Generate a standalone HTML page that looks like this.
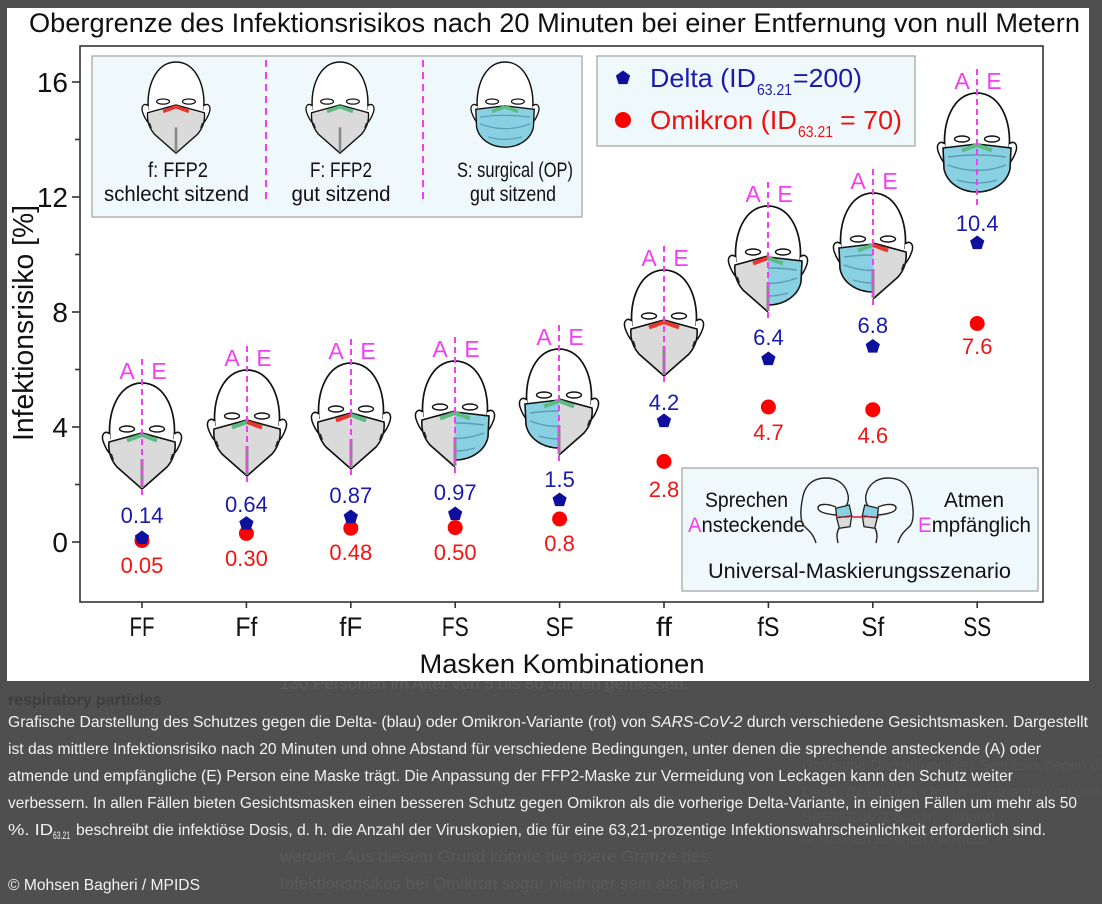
<!DOCTYPE html>
<html><head><meta charset="utf-8"><style>
html,body{margin:0;padding:0;background:#4f4f4f;}
svg{display:block;}
text{font-family:"Liberation Sans",sans-serif;}
</style></head><body>
<svg width="1102" height="904" viewBox="0 0 1102 904" xmlns="http://www.w3.org/2000/svg">
<defs>
<clipPath id="L"><rect x="-50" y="-30" width="50" height="160"/></clipPath>
<clipPath id="R"><rect x="0" y="-30" width="50" height="160"/></clipPath>
<g id="sk">
<path d="M-32,56 C-35,30 -24,0 0,0 C24,0 35,30 32,56" fill="#fff" stroke="#111" stroke-width="1.7"/>
<path d="M-32,51 C-37,47 -41,51 -39,58 C-37,64 -35,68 -31,72" fill="#fff" stroke="#111" stroke-width="1.5"/>
<path d="M32,51 C37,47 41,51 39,58 C37,64 35,68 31,72" fill="#fff" stroke="#111" stroke-width="1.5"/>
<ellipse cx="-15" cy="46" rx="7.5" ry="3" fill="#fff" stroke="#111" stroke-width="1.4"/>
<ellipse cx="15" cy="46" rx="7.5" ry="3" fill="#fff" stroke="#111" stroke-width="1.4"/>
</g>
<g id="mF">
<path d="M-33,59 L0,50 L33,59 C34,69 31,77 25,84 L0,106 L-25,84 C-31,77 -34,69 -33,59 Z" fill="#dadada" stroke="#111" stroke-width="1.6"/>
<path d="M-31,71 L-29,77 M31,71 L29,77" stroke="#222" stroke-width="2"/>
</g>
<g id="mS">
<path d="M-34,55 L0,51 L34,55 L33,76 C30,90 16,99 0,99 C-16,99 -30,90 -33,76 Z" fill="#88d0e2" stroke="#111" stroke-width="1.6"/>
<path d="M-29,64 Q0,60 29,64 M-29,72 Q0,83 29,72 M-20,87 Q0,93 20,87" fill="none" stroke="#5a9db2" stroke-width="1.4"/>
</g>
<path id="seam" d="M0,76 L0,105" stroke="#8a8a8a" stroke-width="3"/>
<path id="gL" d="M-15,57.5 L0,52" stroke="#5dbb82" stroke-width="4"/>
<path id="gR" d="M0,52 L15,57.5" stroke="#5dbb82" stroke-width="4"/>
<path id="rL" d="M-15,57.5 L0,52" stroke="#e8372f" stroke-width="4"/>
<path id="rR" d="M0,52 L15,57.5" stroke="#e8372f" stroke-width="4"/>
<g id="ae">
<line x1="0" y1="-24" x2="0" y2="114" stroke="#f040f0" stroke-width="2" stroke-dasharray="6,4"/>
<text x="-15" y="-4" font-size="23" fill="#f040f0" text-anchor="middle">A</text>
<text x="17" y="-4" font-size="23" fill="#f040f0" text-anchor="middle">E</text>
</g>
<path id="pt" d="M0,-7.5 L7.13,-2.32 L4.41,6.07 L-4.41,6.07 L-7.13,-2.32Z" fill="#0f0f9e"/>
</defs>

<!-- background ghost text -->
<rect x="0" y="0" width="1102" height="904" fill="#4f4f4f"/>
<text x="280" y="689" font-size="17" fill="#5d5d5d">130 Personen im Alter von 5 bis 80 Jahren gemessen.</text>
<text x="8" y="705" font-size="16" font-weight="bold" fill="#3e3e3e">respiratory particles</text>
<text x="280" y="862" font-size="17" fill="#5a5a5a">werden. Aus diesem Grund könnte die obere Grenze des</text>
<text x="280" y="889" font-size="17" fill="#5a5a5a">Infektionsrisikos bei Omikron sogar niedriger sein als bei den</text>
<text x="802" y="770" font-size="15" fill="#555">Grafische Darstellung des Schutzes gegen die</text>
<text x="802" y="797" font-size="15" fill="#555">Delta- (blau) oder Omikron-Variante (rot) von</text>
<text x="802" y="822" font-size="15" fill="#555">SARS-CoV-2 durch ... [mehr]</text>
<text x="802" y="844" font-size="15" fill="#555">© Mohsen Bagheri / MPIDS</text>

<!-- white chart area -->
<rect x="7" y="8" width="1082" height="673" fill="#fff"/>

<!-- title -->
<text x="29" y="32" font-size="27" fill="#111" textLength="1051" lengthAdjust="spacingAndGlyphs">Obergrenze des Infektionsrisikos nach 20 Minuten bei einer Entfernung von null Metern</text>

<!-- frame -->
<rect x="80" y="46" width="963" height="556" fill="none" stroke="#333" stroke-width="1.6"/>
<g stroke="#333" stroke-width="1.6">
<line x1="72" y1="542" x2="80" y2="542"/>
<line x1="72" y1="427" x2="80" y2="427"/>
<line x1="72" y1="312" x2="80" y2="312"/>
<line x1="72" y1="197" x2="80" y2="197"/>
<line x1="72" y1="82" x2="80" y2="82"/>
<line x1="75" y1="484.5" x2="80" y2="484.5"/>
<line x1="75" y1="369.5" x2="80" y2="369.5"/>
<line x1="75" y1="254.5" x2="80" y2="254.5"/>
<line x1="75" y1="139.5" x2="80" y2="139.5"/>
<line x1="142" y1="602" x2="142" y2="608"/>
<line x1="246.4" y1="602" x2="246.4" y2="608"/>
<line x1="350.8" y1="602" x2="350.8" y2="608"/>
<line x1="455.2" y1="602" x2="455.2" y2="608"/>
<line x1="559.6" y1="602" x2="559.6" y2="608"/>
<line x1="664" y1="602" x2="664" y2="608"/>
<line x1="768.4" y1="602" x2="768.4" y2="608"/>
<line x1="872.8" y1="602" x2="872.8" y2="608"/>
<line x1="977.2" y1="602" x2="977.2" y2="608"/>
</g>
<g font-size="28" fill="#111" text-anchor="end">
<text x="68" y="552">0</text>
<text x="68" y="437">4</text>
<text x="68" y="322">8</text>
<text x="68" y="207">12</text>
<text x="68" y="92">16</text>
</g>
<text transform="translate(33,323) rotate(-90)" font-size="29" fill="#111" text-anchor="middle" textLength="236" lengthAdjust="spacingAndGlyphs">Infektionsrisiko  [%]</text>

<g font-size="27" fill="#111" text-anchor="middle">
<text x="142" y="636" textLength="25" lengthAdjust="spacingAndGlyphs">FF</text>
<text x="246.4" y="636" textLength="22" lengthAdjust="spacingAndGlyphs">Ff</text>
<text x="350.8" y="636" textLength="23" lengthAdjust="spacingAndGlyphs">fF</text>
<text x="455.2" y="636" textLength="27" lengthAdjust="spacingAndGlyphs">FS</text>
<text x="559.6" y="636" textLength="28" lengthAdjust="spacingAndGlyphs">SF</text>
<text x="664" y="636" textLength="16" lengthAdjust="spacingAndGlyphs">ff</text>
<text x="768.4" y="636" textLength="22" lengthAdjust="spacingAndGlyphs">fS</text>
<text x="872.8" y="636" textLength="23" lengthAdjust="spacingAndGlyphs">Sf</text>
<text x="977.2" y="636" textLength="28" lengthAdjust="spacingAndGlyphs">SS</text>
<text x="562" y="673" textLength="285" lengthAdjust="spacingAndGlyphs">Masken Kombinationen</text>
</g>

<!-- legend box 1 -->
<rect x="92" y="56" width="490" height="161" fill="#eff9fb" stroke="#a8a8a8" stroke-width="1.3"/>
<line x1="266" y1="60" x2="266" y2="203" stroke="#f040f0" stroke-width="2" stroke-dasharray="7,5"/>
<line x1="423" y1="60" x2="423" y2="203" stroke="#f040f0" stroke-width="2" stroke-dasharray="7,5"/>
<g transform="translate(176,62) scale(0.86)">
<use href="#sk"/><use href="#mF"/><use href="#seam"/><use href="#rL"/><use href="#rR"/>
</g>
<g transform="translate(340,62) scale(0.86)">
<use href="#sk"/><use href="#mF"/><use href="#seam"/><use href="#gL"/><use href="#gR"/>
</g>
<g transform="translate(505,62) scale(0.86)">
<use href="#sk"/><use href="#mS"/><use href="#gL"/><use href="#gR"/>
</g>
<g font-size="21" fill="#111" text-anchor="middle">
<text x="178" y="177" textLength="60" lengthAdjust="spacingAndGlyphs">f: FFP2</text>
<text x="176.5" y="201" textLength="145" lengthAdjust="spacingAndGlyphs">schlecht sitzend</text>
<text x="341" y="177" textLength="62" lengthAdjust="spacingAndGlyphs">F: FFP2</text>
<text x="341" y="201" textLength="99" lengthAdjust="spacingAndGlyphs">gut sitzend</text>
<text x="515" y="177" textLength="116" lengthAdjust="spacingAndGlyphs">S: surgical (OP)</text>
<text x="513" y="201" textLength="86" lengthAdjust="spacingAndGlyphs">gut sitzend</text>
</g>

<!-- legend box 2 -->
<rect x="597" y="56" width="318" height="90" fill="#eff9fb" stroke="#a8a8a8" stroke-width="1.3"/>
<use href="#pt" transform="translate(623,78)"/>
<circle cx="623" cy="120" r="8" fill="#f00"/>
<text x="650" y="87" font-size="26" fill="#1a1aad" textLength="106" lengthAdjust="spacingAndGlyphs">Delta (ID</text>
<text x="757" y="95" font-size="16" fill="#1a1aad" textLength="35" lengthAdjust="spacingAndGlyphs">63.21</text>
<text x="793" y="87" font-size="26" fill="#1a1aad" textLength="69" lengthAdjust="spacingAndGlyphs">=200)</text>
<text x="650" y="129" font-size="26" fill="#f01010" textLength="147" lengthAdjust="spacingAndGlyphs">Omikron (ID</text>
<text x="798" y="137" font-size="16" fill="#f01010" textLength="35" lengthAdjust="spacingAndGlyphs">63.21</text>
<text x="840" y="129" font-size="26" fill="#f01010" textLength="62" lengthAdjust="spacingAndGlyphs">= 70)</text>

<!-- legend box 3 -->
<rect x="682" y="468" width="356" height="123" fill="#eff9fb" stroke="#a8a8a8" stroke-width="1.3"/>
<g font-size="21" fill="#111">
<text x="705" y="507" textLength="83" lengthAdjust="spacingAndGlyphs">Sprechen</text>
<text x="688" y="532" textLength="117" lengthAdjust="spacingAndGlyphs"><tspan fill="#f040f0">A</tspan>nsteckende</text>
<text x="944" y="507" textLength="60" lengthAdjust="spacingAndGlyphs">Atmen</text>
<text x="918" y="532" textLength="113" lengthAdjust="spacingAndGlyphs"><tspan fill="#f040f0">E</tspan>mpfänglich</text>
<text x="708" y="578" textLength="303" lengthAdjust="spacingAndGlyphs">Universal-Maskierungsszenario</text>
</g>
<g id="prof">
<path d="M816,543 C813,533 808,530 804,526 C799,520 801,505 803,496 C806,483 815,478 826,478 C838,478 846,485 848,495 C849,500 848,503 846,506" fill="none" stroke="#222" stroke-width="1.4"/>
<path d="M839,528 C836,534 837,538 838,543" fill="none" stroke="#222" stroke-width="1.4"/>
<path d="M836,507 C826,503 818,504 818,508 C818,512 826,514 836,515" fill="#fff" stroke="#222" stroke-width="1.4"/>
<path d="M835.7,508.3 L849.3,505 L851.7,516 L836.7,517.7 Z" fill="#88d0e2" stroke="#222" stroke-width="1.3"/>
<path d="M836.7,517.7 L851.7,516 L850,526.7 L839.3,528.3 Z" fill="#dadada" stroke="#222" stroke-width="1.3"/>
</g>
<use href="#prof" transform="translate(1714,0) scale(-1,1)"/>
<line x1="836" y1="517" x2="852" y2="517" stroke="#e82040" stroke-width="1.6" stroke-dasharray="3,2"/>
<line x1="852" y1="517" x2="863" y2="517" stroke="#e82040" stroke-width="1.6"/>
<line x1="863" y1="517" x2="879" y2="517" stroke="#e82040" stroke-width="1.6" stroke-dasharray="3,2"/>

<!-- heads -->
<g transform="translate(142,383)"><use href="#sk"/><use href="#mF"/><use href="#seam"/><use href="#gL"/><use href="#gR"/><use href="#ae"/></g>
<g transform="translate(247,370)"><use href="#sk"/><use href="#mF"/><use href="#seam"/><use href="#gL"/><use href="#rR"/><use href="#ae"/></g>
<g transform="translate(351,363)"><use href="#sk"/><use href="#mF"/><use href="#seam"/><use href="#rL"/><use href="#gR"/><use href="#ae"/></g>
<g transform="translate(455,361)"><use href="#sk"/><use href="#mF" clip-path="url(#L)"/><use href="#mS" clip-path="url(#R)"/><use href="#seam"/><use href="#gL"/><use href="#gR"/><use href="#ae"/></g>
<g transform="translate(559,349)"><use href="#sk"/><use href="#mS" clip-path="url(#L)"/><use href="#mF" clip-path="url(#R)"/><use href="#seam"/><use href="#gL"/><use href="#gR"/><use href="#ae"/></g>
<g transform="translate(664,270)"><use href="#sk"/><use href="#mF"/><use href="#seam"/><use href="#rL"/><use href="#rR"/><use href="#ae"/></g>
<g transform="translate(768,206)"><use href="#sk"/><use href="#mF" clip-path="url(#L)"/><use href="#mS" clip-path="url(#R)"/><use href="#seam"/><use href="#rL"/><use href="#gR"/><use href="#ae"/></g>
<g transform="translate(873,193)"><use href="#sk"/><use href="#mS" clip-path="url(#L)"/><use href="#mF" clip-path="url(#R)"/><use href="#seam"/><use href="#gL"/><use href="#rR"/><use href="#ae"/></g>
<g transform="translate(977,93)"><use href="#sk"/><use href="#mS"/><use href="#gL"/><use href="#gR"/><use href="#ae"/></g>

<!-- data points -->
<g fill="#f00">
<circle cx="142" cy="540.6" r="7.5"/>
<circle cx="246.4" cy="533.4" r="7.5"/>
<circle cx="350.8" cy="528.2" r="7.5"/>
<circle cx="455.2" cy="527.6" r="7.5"/>
<circle cx="559.6" cy="519" r="7.5"/>
<circle cx="664" cy="461.5" r="7.5"/>
<circle cx="768.4" cy="407" r="7.5"/>
<circle cx="872.8" cy="409.7" r="7.5"/>
<circle cx="977.2" cy="323.5" r="7.5"/>
</g>
<use href="#pt" transform="translate(142,538)"/>
<use href="#pt" transform="translate(246.4,523.6)"/>
<use href="#pt" transform="translate(350.8,517)"/>
<use href="#pt" transform="translate(455.2,514)"/>
<use href="#pt" transform="translate(559.6,500)"/>
<use href="#pt" transform="translate(664,421)"/>
<use href="#pt" transform="translate(768.4,359)"/>
<use href="#pt" transform="translate(872.8,346.5)"/>
<use href="#pt" transform="translate(977.2,243)"/>

<g font-size="22" fill="#1a1aad" text-anchor="middle">
<text x="142" y="523">0.14</text>
<text x="246.4" y="512">0.64</text>
<text x="350.8" y="503">0.87</text>
<text x="455.2" y="500">0.97</text>
<text x="559.6" y="487">1.5</text>
<text x="664" y="410">4.2</text>
<text x="768.4" y="345">6.4</text>
<text x="872.8" y="333">6.8</text>
<text x="977.2" y="231">10.4</text>
</g>
<g font-size="22" fill="#f01414" text-anchor="middle">
<text x="142" y="573">0.05</text>
<text x="246.4" y="566">0.30</text>
<text x="350.8" y="560">0.48</text>
<text x="455.2" y="560">0.50</text>
<text x="559.6" y="551">0.8</text>
<text x="664" y="497">2.8</text>
<text x="768.4" y="440">4.7</text>
<text x="872.8" y="443">4.6</text>
<text x="977.2" y="354">7.6</text>
</g>

<!-- caption -->
<g font-size="16" fill="#f2f2f2">
<text x="8" y="727" textLength="1080" lengthAdjust="spacingAndGlyphs">Grafische Darstellung des Schutzes gegen die Delta- (blau) oder Omikron-Variante (rot) von <tspan font-style="italic">SARS-CoV-2</tspan> durch verschiedene Gesichtsmasken. Dargestellt</text>
<text x="8" y="754" textLength="1033" lengthAdjust="spacingAndGlyphs">ist das mittlere Infektionsrisiko nach 20 Minuten und ohne Abstand für verschiedene Bedingungen, unter denen die sprechende ansteckende (A) oder</text>
<text x="8" y="781" textLength="1005" lengthAdjust="spacingAndGlyphs">atmende und empfängliche (E) Person eine Maske trägt. Die Anpassung der FFP2-Maske zur Vermeidung von Leckagen kann den Schutz weiter</text>
<text x="8" y="808" textLength="1069" lengthAdjust="spacingAndGlyphs">verbessern. In allen Fällen bieten Gesichtsmasken einen besseren Schutz gegen Omikron als die vorherige Delta-Variante, in einigen Fällen um mehr als 50</text>
<text x="8" y="835" textLength="45" lengthAdjust="spacingAndGlyphs">%. ID</text>
<text x="53" y="839" font-size="11" textLength="17" lengthAdjust="spacingAndGlyphs">63.21</text>
<text x="76" y="835" textLength="970" lengthAdjust="spacingAndGlyphs">beschreibt die infektiöse Dosis, d. h. die Anzahl der Viruskopien, die für eine 63,21-prozentige Infektionswahrscheinlichkeit erforderlich sind.</text>
<text x="8" y="890" textLength="192" lengthAdjust="spacingAndGlyphs">© Mohsen Bagheri / MPIDS</text>
</g>
</svg>
</body></html>
